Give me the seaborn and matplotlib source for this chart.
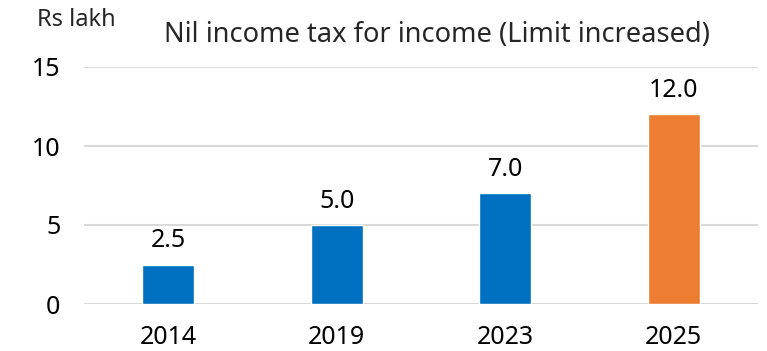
import matplotlib
matplotlib.use("Agg")
import matplotlib.pyplot as plt
import seaborn as sns
import pandas as pd

years = ["2014", "2019", "2023", "2025"]
limits = [2.5, 5.0, 7.0, 12.0]
bar_colors = ["#0070C0", "#0070C0", "#0070C0", "#ED7D31"]
y_ticks = [0, 5, 10, 15]

sns.set_theme(style="white")
plt.rcParams["font.family"] = ["Noto Sans", "DejaVu Sans"]

df = pd.DataFrame({"year": years, "limit": limits})

fig = plt.figure(figsize=(7.67, 3.51), dpi=100)
ax = fig.add_axes([84 / 767, 1 - 304 / 351, (758 - 84) / 767, (304 - 67) / 351])

sns.barplot(data=df, x="year", y="limit", hue="year", palette=bar_colors,
            legend=False, width=0.31, saturation=1, ax=ax, zorder=3)

ax.set_ylim(0, 15)
ax.set_yticks(y_ticks)
ax.set_xlim(-0.5, len(years) - 0.5)
ax.yaxis.grid(True, color="#D9D9D9", linewidth=1.5, zorder=0)
ax.set_axisbelow(True)
for s in ax.spines.values():
    s.set_visible(False)
ax.set_xlabel("")
ax.set_ylabel("")
ax.tick_params(axis="both", length=0, labelsize=18, colors="#000000")
ax.tick_params(axis="y", pad=17)
ax.tick_params(axis="x", pad=15)

for i, v in enumerate(limits):
    ax.annotate(f"{v:.1f}", (i, v), xytext=(0, 8), textcoords="offset points",
                ha="center", va="bottom", fontsize=18, color="#000000")

fig.text(37 / 767, 1 - 20 / 351, "Rs lakh", fontsize=17, va="center", ha="left")
fig.text(437 / 767, 1 - 35 / 351, "Nil income tax for income (Limit increased)",
         fontsize=19.6, va="center", ha="center")

fig.savefig("out.png", dpi=100, facecolor="white")
